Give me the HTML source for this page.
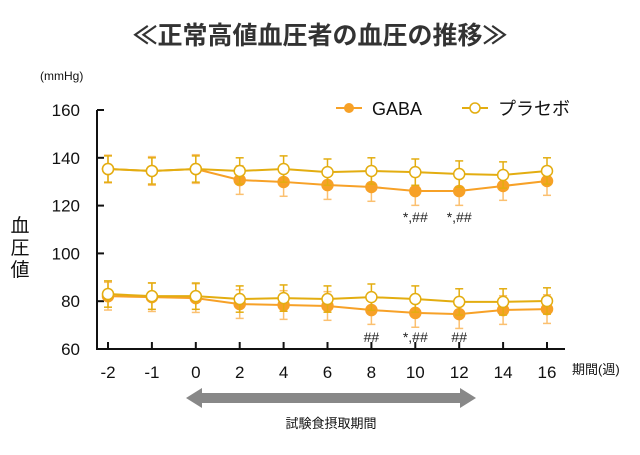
<!DOCTYPE html>
<html><head><meta charset="utf-8"><style>
body{margin:0;background:#fff;width:640px;height:450px;overflow:hidden;font-family:"Liberation Sans","Noto Sans CJK JP",sans-serif}
svg text{font-family:"Liberation Sans","Noto Sans CJK JP",sans-serif}
</style></head><body>
<svg id="c" width="640" height="450">
<text x="320" y="44" text-anchor="middle" font-size="25" font-weight="bold" fill="#333">≪正常高値血圧者の血圧の推移≫</text>
<text x="40" y="80" font-size="12" fill="#111">(mmHg)</text>
<text x="20" y="232" text-anchor="middle" font-size="19" fill="#111"><tspan x="20" dy="0">血</tspan><tspan x="20" dy="22">圧</tspan><tspan x="20" dy="22">値</tspan></text>
<text x="572" y="374" font-size="13" fill="#111">期間(週)</text>
<g>
<line x1="336" y1="108" x2="362" y2="108" stroke="#f7a127" stroke-width="2"/><circle cx="349" cy="108" r="5" fill="#f7a127"/>
<text x="372" y="115" font-size="18" fill="#111">GABA</text>
<line x1="462" y1="108" x2="488" y2="108" stroke="#e3ad10" stroke-width="2"/><circle cx="475" cy="108" r="5" fill="#fff" stroke="#e3ad10" stroke-width="1.5"/>
<text x="498" y="115" font-size="18" fill="#111">プラセボ</text>
</g>
<g>
<rect x="200" y="393" width="262" height="10" fill="#888"/>
<polygon points="186,398 202,388 202,408" fill="#888"/>
<polygon points="476,398 460,388 460,408" fill="#888"/>
<text x="331" y="428" text-anchor="middle" font-size="13" fill="#111">試験食摂取期間</text>
</g>
<g id="g"></g>
</svg>
<script>
const weeks=["-2","-1","0","2","4","6","8","10","12","14","16"];
const yTicks=[60,80,100,120,140,160];
const gabaSys=[135.3,134.5,135.3,130.7,129.9,128.6,127.8,126.1,126.1,128.2,130.3];
const placeboSys=[135.3,134.5,135.3,134.5,135.3,134,134.5,134,133.2,132.8,134.5];
const gabaDia=[82.1,81.7,81.3,78.8,78.4,78.0,76.3,75.1,74.6,76.3,76.7];
const placeboDia=[83.0,82.1,82.1,80.9,81.3,80.9,81.7,80.9,79.7,79.7,80.1];
const gabaErr=[5.8,6,6,6,6,6,6,6,6,6,6];
const placeboErr=[5.5,5.5,5.5,5.5,5.5,5.5,5.5,5.5,5.5,5.5,5.5];
const marksSys=["","","","","","","","*,##","*,##","",""];
const marksDia=["","","","","","","##","*,##","##","",""];
const X=i=>108+i*43.9, Y=v=>349-(v-60)*2.39;
const g=document.getElementById('g');
const NS='http://www.w3.org/2000/svg';
function el(t,a,name){const e=document.createElementNS(NS,t);for(const k in a)e.setAttribute(k,a[k]);


g.appendChild(e);return e;}
el('line',{x1:97,y1:110,x2:97,y2:350,stroke:'#111','stroke-width':2},'y-axis');
el('line',{x1:96,y1:349,x2:565,y2:349,stroke:'#111','stroke-width':2},'x-axis');
yTicks.forEach(v=>{el('line',{x1:97,y1:Y(v),x2:104,y2:Y(v),stroke:'#111','stroke-width':2},'y-tick');
const t=el('text',{x:80,y:Y(v)+6,'text-anchor':'end','font-size':17,fill:'#111'},'y-tick-label');t.textContent=v;});
weeks.forEach((w,i)=>{el('line',{x1:X(i),y1:349,x2:X(i),y2:342,stroke:'#111','stroke-width':2},'x-tick');
const t=el('text',{x:X(i),y:378,'text-anchor':'middle','font-size':17,fill:'#111'},'x-tick-label');t.textContent=w;});
function series(vals,err,col,errCol,filled,name){
 vals.forEach((v,i)=>{el('line',{x1:X(i),y1:Y(v-err[i]),x2:X(i),y2:Y(v+err[i]),stroke:errCol,'stroke-width':1.5},name+'-error');
 [v-err[i],v+err[i]].forEach(e=>el('line',{x1:X(i)-4,y1:Y(e),x2:X(i)+4,y2:Y(e),stroke:errCol,'stroke-width':1.5},name+'-error-cap'));});
 el('polyline',{points:vals.map((v,i)=>X(i)+','+Y(v)).join(' '),fill:'none',stroke:col,'stroke-width':2},name+'-line');
 vals.forEach((v,i)=>el('circle',{cx:X(i),cy:Y(v),r:5.5,fill:filled?col:'#fff',stroke:col,'stroke-width':1.5},name+'-point'));
}
series(gabaSys,gabaErr,'#f7a127','#fbc070',true,'gaba-systolic');
series(gabaDia,gabaErr,'#f7a127','#fbc070',true,'gaba-diastolic');
series(placeboSys,placeboErr,'#e3ad10','#e3ad10',false,'placebo-systolic');
series(placeboDia,placeboErr,'#e3ad10','#e3ad10',false,'placebo-diastolic');
marksSys.forEach((m,i)=>{if(m){const t=el('text',{x:X(i),y:222,'text-anchor':'middle','font-size':14,fill:'#222'},'significance-mark');t.textContent=m;}});
marksDia.forEach((m,i)=>{if(m){const t=el('text',{x:X(i),y:342,'text-anchor':'middle','font-size':14,fill:'#222'},'significance-mark');t.textContent=m;}});
</script>
</body></html>
